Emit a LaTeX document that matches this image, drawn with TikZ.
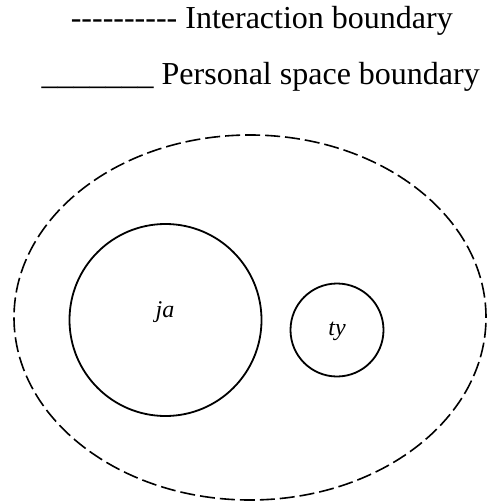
\documentclass[tikz,border=0pt]{standalone}
\usepackage{fontspec}
\setmainfont{Liberation Serif}[Ligatures=TeXOff]
\usepackage{tikz}
\usetikzlibrary{shapes.geometric, positioning}

\begin{document}
\begin{tikzpicture}[
    x=1pt, y=-1pt,
    legend/.style={inner sep=0pt, font=\fontsize{32}{38}\selectfont},
    person/.style={circle, draw, line width=1.8pt, inner sep=0pt},
    who/.style={inner sep=0pt, font=\fontsize{24}{28}\selectfont\itshape},
    zone/.style={draw, line width=1.6pt, dash pattern=on 15pt off 5pt},
]
\useasboundingbox (0,0) rectangle (486,502);

% ---- Legend ----
\node[legend, anchor=base east] (leginter) at (453,29) {---------- Interaction boundary};
\node[legend, anchor=base east] (legpers) at (480,85) {\_\_\_\_\_\_\_ Personal space boundary};

% ---- Interaction boundary ----
\node[zone, ellipse, minimum width=472pt, minimum height=365pt, inner sep=0pt] (inter) at (250,317.5) {};

% ---- Personal spaces ----
\node[person, minimum size=192pt] (jaspace) at (165.5,320) {};
\node[person, minimum size=93pt] (tyspace) at (337,330) {};

\node[who, anchor=base] (ja) at (165,317) {ja};
\node[who, anchor=base] (ty) at (337,335) {ty};

\end{tikzpicture}
\end{document}
